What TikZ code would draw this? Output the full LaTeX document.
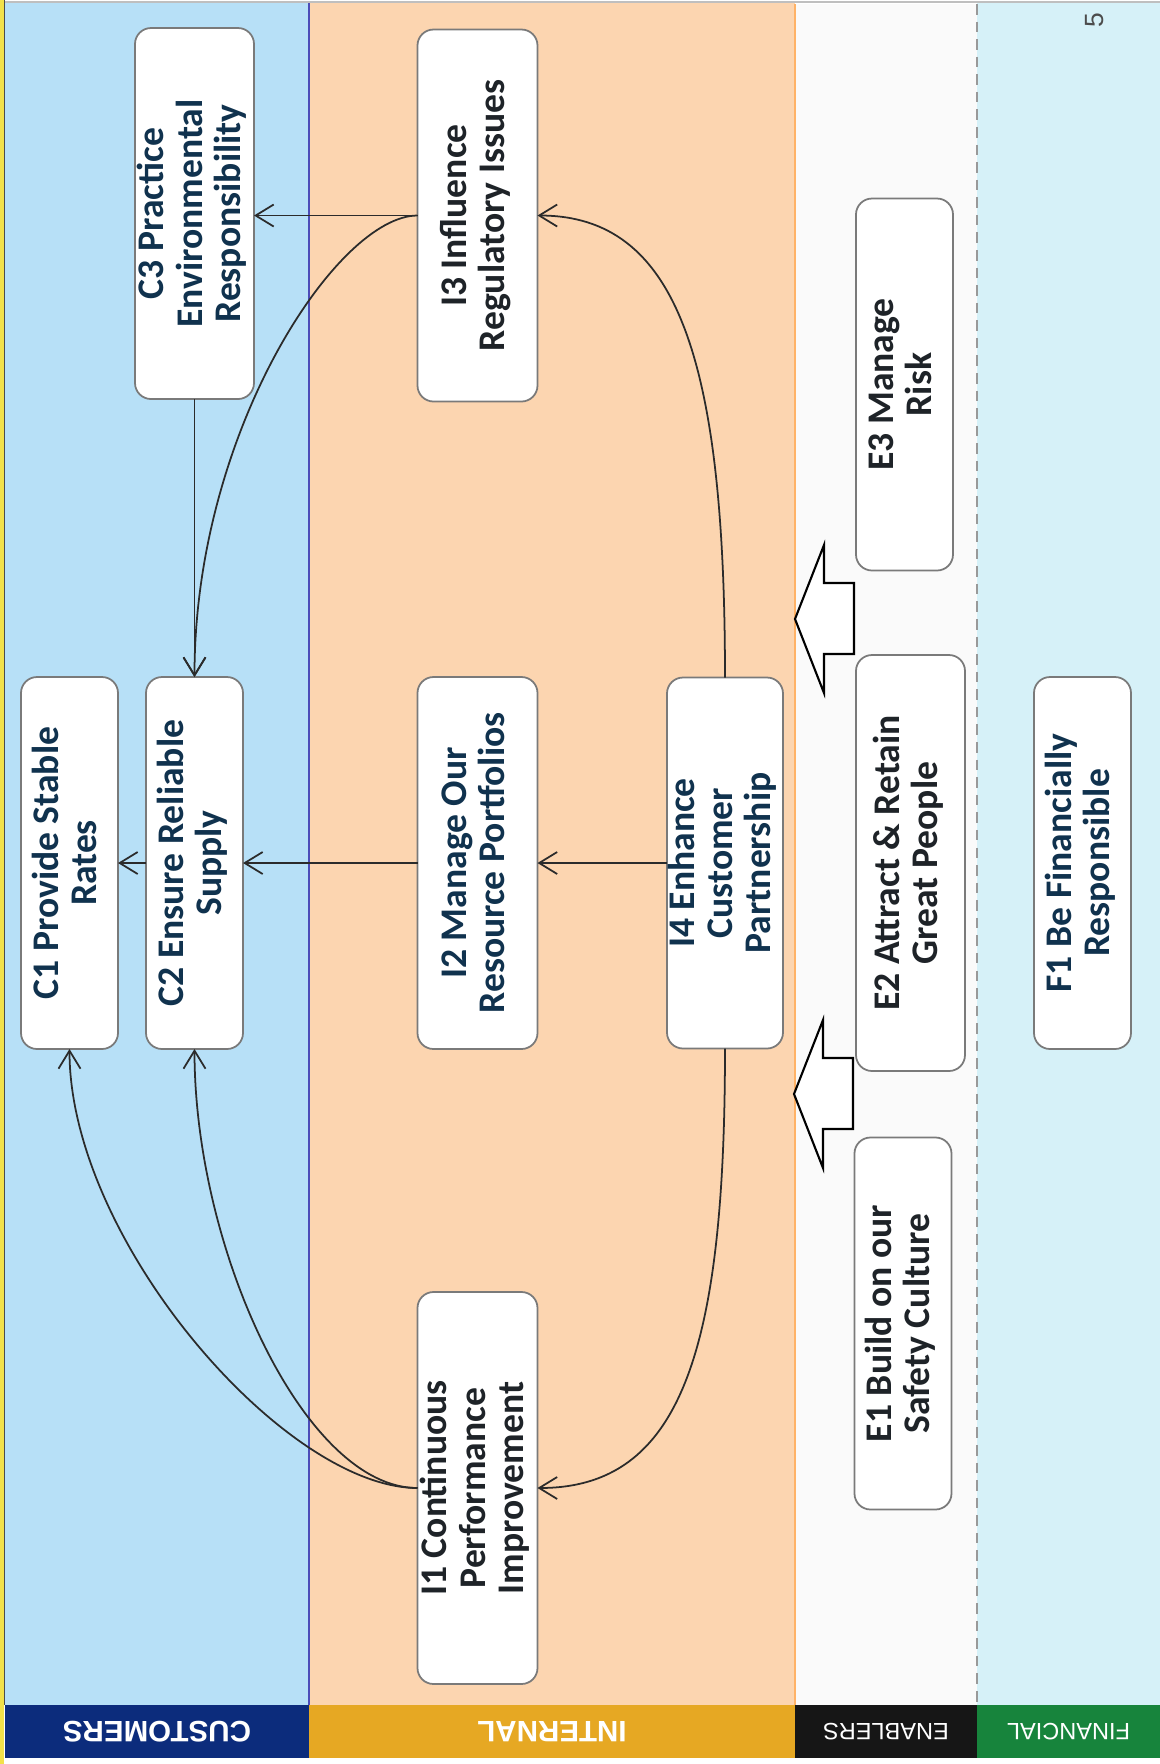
\documentclass[tikz,border=0pt]{standalone}
\usepackage{fontspec}
\setmainfont{Carlito}
\newfontfamily\barfont{Liberation Sans}
\usepackage{graphicx}
\usetikzlibrary{positioning,arrows.meta}

\definecolor{custbg}{HTML}{B7E0F7}
\definecolor{intbg}{HTML}{FCD5B0}
\definecolor{enbbg}{HTML}{FAFAFA}
\definecolor{finbg}{HTML}{D6F1F8}
\definecolor{custbar}{HTML}{0C2C7C}
\definecolor{intbar}{HTML}{E6A823}
\definecolor{enbbar}{HTML}{161616}
\definecolor{finbar}{HTML}{17843C}
\definecolor{boxgray}{HTML}{7A7A7A}
\definecolor{linkgray}{HTML}{2B2B2B}
\definecolor{navytext}{HTML}{10324E}
\definecolor{darktext}{HTML}{1E2328}
\definecolor{edgeyellow}{HTML}{F2E14A}

\newcommand{\vtext}[1]{\rotatebox{90}{\begin{tabular}{@{}c@{}}#1\end{tabular}}}

\begin{document}
\begin{tikzpicture}
[x=0.1mm,y=-0.1mm,
 every node/.style={inner sep=0mm,outer sep=0mm},
 obj/.style={draw=boxgray,line width=0.5pt,fill=white,rounded corners=1.6mm,
             font=\bfseries\fontsize{10.7pt}{10.9pt}\selectfont,text=navytext},
 slim/.style={obj,minimum width=9.7mm,minimum height=37.2mm},
 wide/.style={obj,minimum width=12mm,minimum height=37.2mm},
 dark/.style={text=darktext},
 bar/.style={rotate=180,text=white,minimum height=5.3mm},
 link/.style={draw=linkgray,line width=0.5pt,-{Straight Barb[length=1.8mm,width=2.2mm]}},
 bigarrow/.style={draw=black,line width=0.6pt,fill=white,line join=miter}]
\useasboundingbox (0,0) rectangle (1160,1764);
% columns
\fill[custbg] (5,3)   rectangle (309,1705);
\fill[intbg]  (309,3) rectangle (795,1705);
\fill[enbbg]  (795,4) rectangle (977,1705);
\fill[finbg]  (977,3) rectangle (1160,1705);
\fill[edgeyellow] (0,0) rectangle (4,1764);
\draw[black!70,line width=0.4pt] (4.5,0) -- (4.5,1705);
\draw[black!25,line width=0.6pt] (5,2) -- (1160,2);
\draw[blue!60!black!70,line width=0.4pt] (309,3) -- (309,1705);
\draw[orange!60,line width=0.4pt] (795,4) -- (795,1705);
\draw[black!40,densely dashed,line width=0.4pt] (977,4) -- (977,1705);
% perspective bars
\node[bar,fill=custbar,minimum width=30.4mm,font=\barfont\bfseries\fontsize{8.4pt}{10pt}\selectfont] (barC) at (157,1731.5) {CUSTOMERS};
\node[bar,fill=intbar,minimum width=48.6mm,font=\barfont\bfseries\fontsize{8.4pt}{10pt}\selectfont]  (barI) at (552,1731.5) {INTERNAL};
\node[bar,fill=enbbar,minimum width=18.2mm,font=\barfont\fontsize{6.7pt}{8pt}\selectfont]  (barE) at (886,1731.5) {ENABLERS};
\node[bar,fill=finbar,minimum width=18.3mm,font=\barfont\fontsize{6.7pt}{8pt}\selectfont]  (barF) at (1068.5,1731.5) {FINANCIAL};
\node[rotate=90,text=black!70,font=\barfont\fontsize{7.5pt}{8pt}\selectfont] (pnum) at (1095,20) {5};
% objectives
\node[slim] (C2) at (194.5,863) {\vtext{C2 Ensure Reliable\\Supply}};
\node[slim] (C1) [on grid,left=12.5mm of C2] {\vtext{C1 Provide Stable\\Rates}};
\node[wide,minimum width=11.9mm,minimum height=37.1mm] (C3) [on grid,above=64.95mm of C2] {\vtext{C3 Practice\\Environmental\\Responsibility}};
\node[wide] (I2) [on grid,right=28.3mm of C2] {\vtext{I2 Manage Our\\Resource Portfolios}};
\node[wide,dark] (I3) [on grid,above=64.75mm of I2] {\vtext{I3 Influence\\Regulatory Issues}};
\node[wide,dark,minimum height=39.2mm] (I1) [on grid,below=62.5mm of I2] {\vtext{I1 Continuous\\Performance\\Improvement}};
\node[wide,minimum width=11.6mm,minimum height=37.1mm] (I4) [on grid,right=24.75mm of I2] {\vtext{I4 Enhance\\Customer\\Partnership}};
\node[slim,dark,minimum width=10.9mm,minimum height=41.6mm] (E2) [on grid,right=18.55mm of I4] {\vtext{E2 Attract \& Retain\\Great People}};
\node[slim,dark] (E3) [on grid,above left=47.85mm and 0.6mm of E2] {\vtext{E3 Manage\\Risk}};
\node[slim,dark] (E1) [on grid,below left=46.05mm and 0.75mm of E2] {\vtext{E1 Build on our\\Safety Culture}};
\node[slim] (F1) [on grid,right=17.2mm of E2] {\vtext{F1 Be Financially\\Responsible}};
% enabler arrows
\draw[bigarrow] (795,619)  -- ++(29,-74) -- ++(0,38) -- ++(30,0) -- ++(0,71) -- ++(-30,0) -- ++(0,39) -- cycle;
\draw[bigarrow] (794,1094) -- ++(29,-74) -- ++(0,38) -- ++(30,0) -- ++(0,71) -- ++(-30,0) -- ++(0,39) -- cycle;
% links
\draw[link] (C3.south) -- (C2.north);
\draw[link] (I3.west)  -- (I3.west -| C3.east);
\draw[link] (I3.west)  .. controls +(-80,0) and +(0,-246) .. (C2.north);
\draw[link] (I2.west)  -- (C2.east);
\draw[link] (C2.west)  -- (C1.east);
\draw[link] (I4.west)  -- (I2.east);
\draw[link] (I4.north) .. controls +(0,-318) and +(140,0) .. (I3.east);
\draw[link] (I4.south) .. controls +(0,304) and +(143,0) .. (I1.east);
\draw[link] (I1.west)  .. controls +(-133,0) and +(0,191) .. (C1.south);
\draw[link] (I1.west)  .. controls +(-113,0) and +(0,201) .. (C2.south);
\end{tikzpicture}
\end{document}
